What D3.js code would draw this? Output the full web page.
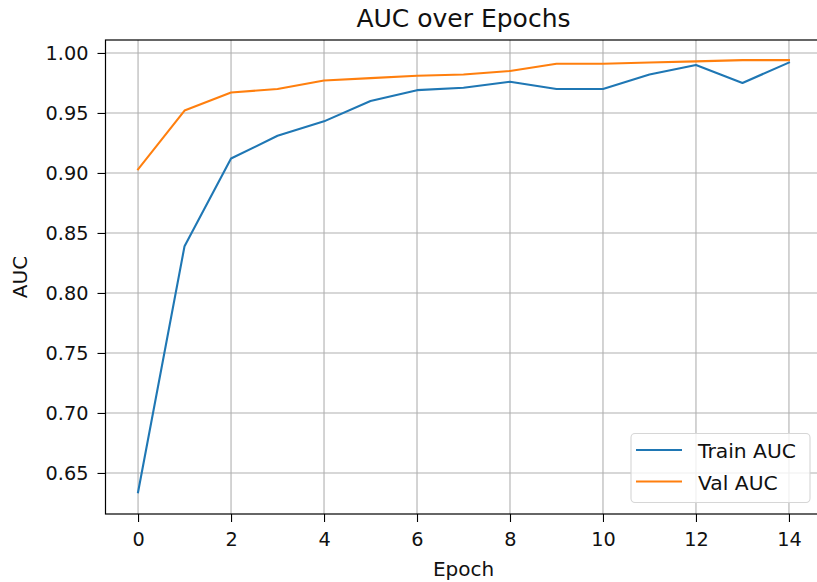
<!DOCTYPE html>
<html>
<head>
<meta charset="utf-8">
<script src="https://cdn.jsdelivr.net/npm/d3@7"></script>
<style>
  html, body { margin: 0; padding: 0; background: #fff; }
  svg { display: block; font-family: "DejaVu Sans", sans-serif; }
</style>
</head>
<body>
<svg id="chart" width="817" height="582"></svg>
<script>
const epochs = [0, 1, 2, 3, 4, 5, 6, 7, 8, 9, 10, 11, 12, 13, 14];
const trainAUC = [0.634, 0.839, 0.912, 0.931, 0.943, 0.960, 0.969, 0.971, 0.976, 0.970, 0.970, 0.982, 0.990, 0.975, 0.992];
const valAUC = [0.903, 0.952, 0.967, 0.970, 0.977, 0.979, 0.981, 0.982, 0.985, 0.991, 0.991, 0.992, 0.993, 0.994, 0.994];
const xTicks = [0, 2, 4, 6, 8, 10, 12, 14];
const yTicks = [0.65, 0.70, 0.75, 0.80, 0.85, 0.90, 0.95, 1.00];
const seriesNames = ["Train AUC", "Val AUC"];
const seriesColors = ["#1f77b4", "#ff7f0e"];

(function () {
const svg = d3.select("#chart");
const mLeft = 105.5, mRight = 821.5, mTop = 40, mBottom = 514;

const x = d3.scaleLinear().domain([-0.7, 14.7]).range([mLeft, mRight]);
const y = d3.scaleLinear().domain([0.6158, 1.0108]).range([mBottom, mTop]);

// grid
const grid = svg.append("g");
grid.selectAll("line.vx").data(xTicks).join("line")
  .attr("x1", d => x(d)).attr("x2", d => x(d))
  .attr("y1", mTop).attr("y2", mBottom)
  .attr("stroke", "#b0b0b0").attr("stroke-width", 1.1);
grid.selectAll("line.hy").data(yTicks).join("line")
  .attr("x1", mLeft).attr("x2", mRight)
  .attr("y1", d => y(d)).attr("y2", d => y(d))
  .attr("stroke", "#b0b0b0").attr("stroke-width", 1.1);

// lines
const line = d3.line().x((d, i) => x(epochs[i])).y(d => y(d));
[trainAUC, valAUC].forEach((s, k) => {
  svg.append("path").datum(s)
    .attr("fill", "none")
    .attr("stroke", seriesColors[k])
    .attr("stroke-width", 2.1)
    .attr("stroke-linejoin", "round")
    .attr("stroke-linecap", "square")
    .attr("d", line);
});

// axes
const xAxis = d3.axisBottom(x).tickValues(xTicks).tickFormat(d3.format("d")).tickSize(8).tickPadding(10);
const yAxis = d3.axisLeft(y).tickValues(yTicks).tickFormat(d3.format(".2f")).tickSize(8).tickPadding(9);

const gx = svg.append("g").attr("transform", `translate(0,${mBottom})`).call(xAxis);
const gy = svg.append("g").attr("transform", `translate(${mLeft},0)`).call(yAxis);
[gx, gy].forEach(g => {
  g.select(".domain").remove();
  g.selectAll(".tick line").attr("stroke", "#000").attr("stroke-width", 1.1);
  g.selectAll(".tick text").attr("fill", "#111").style("font-size", "19.3px").style("font-family", "DejaVu Sans");
});

// spines
const sp = svg.append("g").attr("stroke", "#000").attr("stroke-width", 1.2).attr("fill", "none");
sp.append("rect").attr("x", mLeft).attr("y", mTop).attr("width", mRight - mLeft).attr("height", mBottom - mTop);

// title and labels
svg.append("text").attr("x", (mLeft + mRight) / 2).attr("y", 27)
  .attr("text-anchor", "middle").style("font-size", "25px").attr("fill", "#111")
  .text("AUC over Epochs");
svg.append("text").attr("x", (mLeft + mRight) / 2).attr("y", 576)
  .attr("text-anchor", "middle").style("font-size", "20px").attr("fill", "#111")
  .text("Epoch");
svg.append("text").attr("transform", `translate(27,${(mTop + mBottom) / 2}) rotate(-90)`)
  .attr("text-anchor", "middle").style("font-size", "20px").attr("fill", "#111")
  .text("AUC");

// legend
const lg = svg.append("g");
lg.append("rect").attr("x", 631).attr("y", 433.5).attr("width", 179).attr("height", 69)
  .attr("rx", 4).attr("fill", "#fff").attr("fill-opacity", 0.8)
  .attr("stroke", "#d6d6d6").attr("stroke-width", 1.1);
seriesNames.forEach((name, i) => {
  const cy = 450 + i * 31.5;
  lg.append("line").attr("x1", 636).attr("x2", 682).attr("y1", cy).attr("y2", cy)
    .attr("stroke", seriesColors[i]).attr("stroke-width", 2.1);
  lg.append("text").attr("x", 698).attr("y", cy + 8.3).style("font-size", "20.3px").attr("fill", "#111")
    .text(name);
});
})();
</script>
</body>
</html>
